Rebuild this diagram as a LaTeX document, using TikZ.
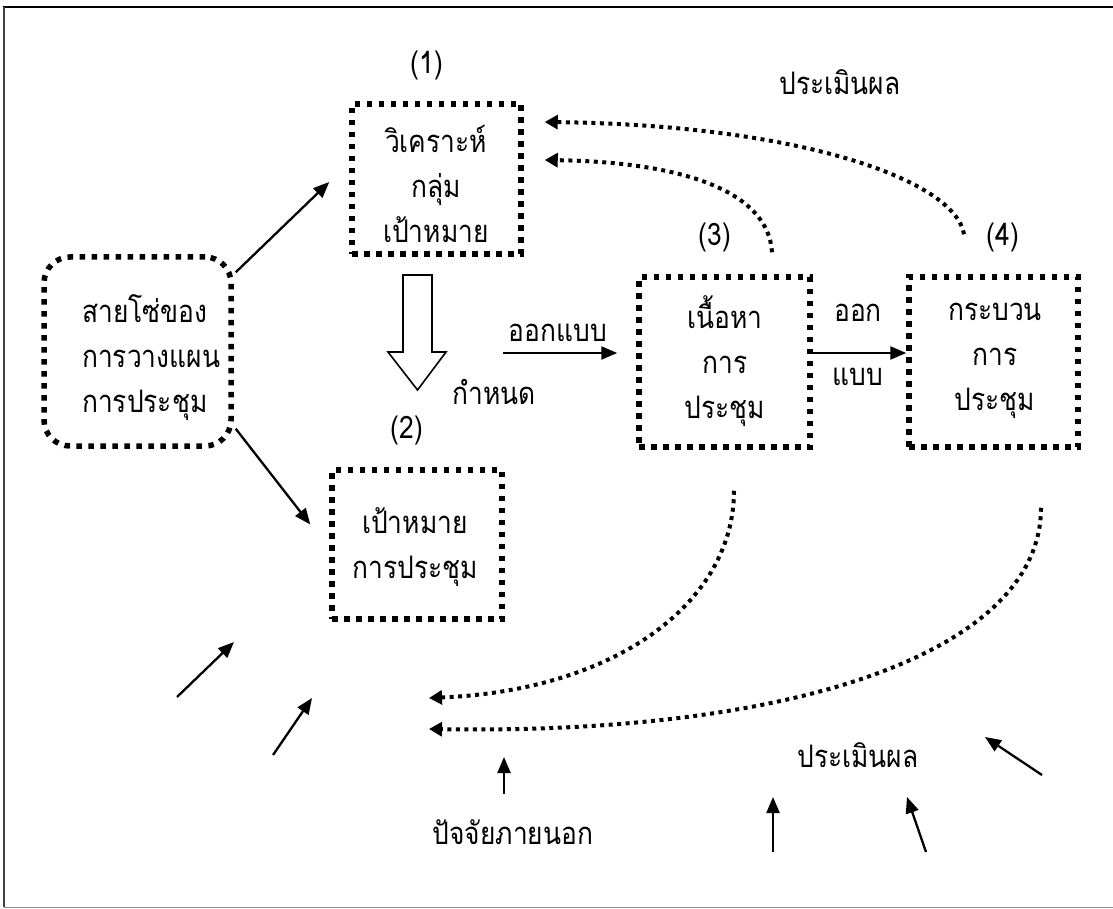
\documentclass[tikz,border=0pt]{standalone}
\usepackage{fontspec}
\newfontfamily\thai[Script=Thai,FakeStretch=0.85]{Loma}
\usetikzlibrary{arrows.meta,calc}
\begin{document}
\begin{tikzpicture}[x=1pt,y=-1pt,
  dotbox/.style={draw, line width=5.5pt, dash pattern=on 5.5pt off 6.5pt, inner sep=0pt},
  txt/.style={inner sep=0pt, align=center, font=\thai\fontsize{31}{45}\selectfont},
  lbl/.style={inner sep=0pt, font=\thai\fontsize{31}{34}\selectfont},
  arr/.style={line width=2.3pt, -{Triangle[length=16pt,width=13pt]}},
  dotarr/.style={line width=4pt, dash pattern=on 4pt off 4.5pt, -{Triangle[length=13pt,width=14pt]}},
  hollow/.style={line width=1.6pt, fill=white, line join=miter},
]
\useasboundingbox (0,0) rectangle (1113,909);
% outer frame
\draw[line width=1.8pt] (3,7) -- (1113,7);
\draw[black!75, line width=1.3pt] (4,7) -- (4,907);
\draw[black!45, line width=1pt] (4,907) -- (1113,907);

% boxes
\node[dotbox, rounded corners=26pt, minimum width=187pt, minimum height=189pt] (b0) at (137.5,351.5) {};
\node[dotbox, minimum width=169pt, minimum height=150pt] (b1) at (436.5,179) {};
\node[dotbox, minimum width=170pt, minimum height=149pt] (b2) at (417,544.5) {};
\node[dotbox, minimum width=171pt, minimum height=170pt] (b3) at (724.5,362) {};
\node[dotbox, minimum width=169pt, minimum height=170pt] (b4) at (993.5,362) {};

% box texts
\node[txt, align=left, anchor=west] (t0) at (82,358) {สายโซ่ของ\\การวางแผน\\การประชุม};
\node[txt] (t1) at (436,184) {วิเคราะห์\\กลุ่ม\\เป้าหมาย};
\node[txt] (t2) at (415,547) {เป้าหมาย\\การประชุม};
\node[txt] (t3) at (725,361) {เนื้อหา\\การ\\ประชุม};
\node[txt] (t4) at (995,361) {กระบวน\\การ\\ประชุม};

% numbers and labels
\node[lbl] (n1) at (427,65) {(1)};
\node[lbl] (n2) at (407,430) {(2)};
\node[lbl] (n3) at (715,237) {(3)};
\node[lbl] (n4) at (1003,237) {(4)};
\node[lbl] (ev1) at (840,82) {ประเมินผล};
\node[lbl] (ev2) at (858,755) {ประเมินผล};
\node[lbl] (def) at (494,392) {กำหนด};
\node[lbl] (des1) at (558,333) {ออกแบบ};
\node[lbl] (des2) at (858,313) {ออก};
\node[lbl] (des3) at (858,377) {แบบ};
\node[lbl] (ext) at (513,832) {ปัจจัยภายนอก};

% chain to (1) and (2)
\draw[arr] ($(b0.north east)+(2,18)$) -- ($(b1.west)+(-20,3)$);
\draw[arr] ($(b0.south east)+(2,-20)$) -- ($(b2.west)+(-19,-20)$);

% hollow arrow from (1) down to (2)
\draw[hollow] (403,275) -- (432,275) -- (432,352) -- (446,352) -- (417.5,390)
  -- (388,352) -- (403,352) -- cycle;

% design arrows
\coordinate (dstart) at (503,353);
\draw[arr] (dstart) -- ($(b3.west)+(-19,-9)$);
\draw[arr] ($(b3.east)+(0,-9)$) -- ($(b4.west)+(0,-9)$);

% evaluation feedback to (1)
\draw[dotarr] ($(b3.north)+(47.5,-22)$) .. controls (768,190) and (680,162) .. ($(b1.east)+(21,-19)$);
\draw[dotarr] ($(b4.north)+(-29.5,-40)$) .. controls (955,180) and (800,125) .. ($(b1.east)+(21,-57)$);

% feedback to the lower left
\coordinate (fb1) at (429,698);
\coordinate (fb2) at (429,729);
\draw[dotarr] ($(b3.south)+(9.5,41)$) .. controls (734,600) and (620,690) .. (fb1);
\draw[dotarr] ($(b4.south)+(47.5,58)$) .. controls (1041,650) and (800,735) .. (fb2);

% outside influences
\coordinate (a1s) at (177,697); \coordinate (a1e) at (234,642);
\coordinate (a2s) at (273,755); \coordinate (a2e) at (312,698);
\coordinate (a3s) at (504,794); \coordinate (a3e) at (504,757);
\coordinate (a4s) at (773,852); \coordinate (a4e) at (773,797);
\coordinate (a5s) at (926,852); \coordinate (a5e) at (907,797);
\coordinate (a6s) at (1042,775); \coordinate (a6e) at (985,737);
\draw[arr] (a1s) -- (a1e);
\draw[arr] (a2s) -- (a2e);
\draw[arr] (a3s) -- (a3e);
\draw[arr] (a4s) -- (a4e);
\draw[arr] (a5s) -- (a5e);
\draw[arr] (a6s) -- (a6e);
\end{tikzpicture}
\end{document}
